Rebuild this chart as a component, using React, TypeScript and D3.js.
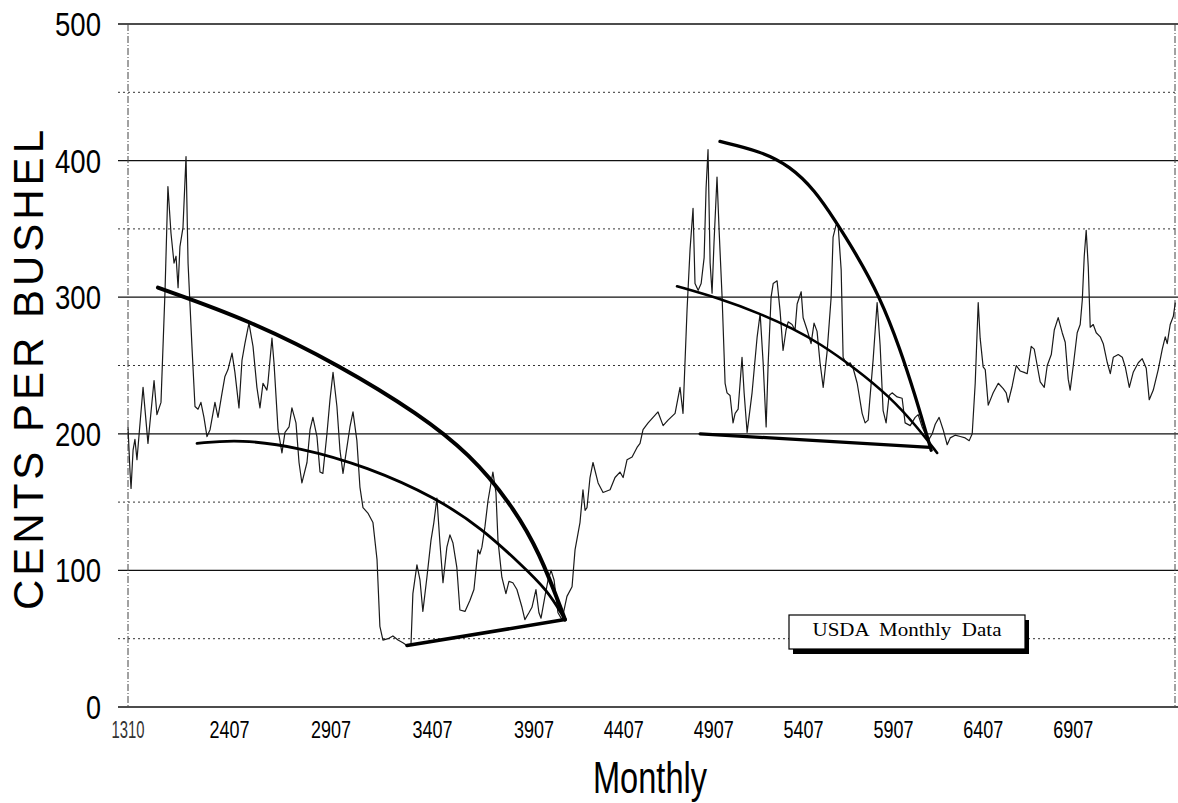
import * as d3 from "d3";

const W = 1178;
const H = 803;

// x is the category position of each monthly row; labels every 60 rows
const tickLabels = ["1310", "2407", "2907", "3407", "3907", "4407", "4907", "5407", "5907", "6407", "6907"];
const tickPeriods = [0, 60, 120, 180, 240, 300, 360, 420, 480, 540, 600];
const lastPeriod = 668;

const yMajor = [0, 100, 200, 300, 400, 500];
const yMinor = [50, 150, 250, 350, 450];

// cents per bushel [period, price]
const price: [number, number][] = [
  [0, 205], [1.2, 172], [1.8, 160], [3.0, 188], [4.1, 196], [5.3, 181], [8.9, 234], [11.8, 193],
  [15.4, 239], [17.1, 214], [19.5, 223], [21.9, 305], [23.6, 381], [25.4, 347], [27.2, 325], [28.4, 330],
  [29.6, 307], [30.7, 337], [32.5, 351], [34.3, 403], [35.5, 325], [37.8, 264], [39.6, 220], [41.4, 218],
  [43.1, 223], [44.9, 212], [46.7, 198], [48.5, 203], [51.4, 223], [53.2, 212], [55.6, 230], [57.3, 242],
  [59.1, 247], [61.5, 259], [63.2, 245], [65.6, 219], [67.4, 254], [69.1, 266], [71.5, 281], [73.9, 264],
  [76.2, 234], [78.0, 219], [79.8, 237], [82.1, 232], [82.7, 237], [85.1, 270], [86.3, 252], [88.7, 203],
  [91.0, 186], [92.8, 201], [95.2, 205], [96.9, 219], [99.3, 208], [101.1, 179], [102.8, 164], [105.8, 179],
  [107.6, 203], [109.3, 212], [111.7, 198], [113.5, 172], [115.2, 171], [117.6, 200], [119.4, 225], [121.2, 245],
  [123.5, 220], [125.3, 188], [127.1, 171], [129.4, 190], [131.2, 205], [133.0, 216], [135.3, 195], [137.1, 161],
  [138.9, 146], [141.8, 142], [144.8, 135], [147.2, 108], [148.9, 59], [150.7, 49], [153.7, 50], [156.6, 52],
  [159.6, 49], [162.5, 47], [164.9, 45], [167.3, 46], [168.4, 83], [170.8, 104], [172.6, 93], [174.3, 70],
  [176.7, 95], [179.1, 122], [180.8, 135], [182.6, 153], [184.4, 120], [186.2, 91], [188.5, 117], [190.3, 126],
  [192.1, 120], [194.4, 102], [196.2, 71], [199.2, 70], [202.1, 78], [204.5, 86], [206.9, 115], [208.0, 112],
  [209.2, 117], [211.0, 132], [212.8, 151], [215.7, 172], [217.5, 157], [218.7, 122], [221.0, 95], [223.4, 83],
  [225.2, 92], [227.5, 91], [229.9, 86], [232.9, 73], [234.6, 64], [237.0, 69], [238.8, 73], [241.3, 86],
  [243.3, 69], [244.7, 65], [247.3, 81], [249.4, 93], [251.4, 100], [253.4, 93], [256.0, 69], [258.7, 64],
  [262.0, 81], [265.4, 88], [267.4, 115], [270.7, 135], [272.7, 159], [274.1, 144], [275.4, 146], [277.4, 168],
  [279.4, 179], [282.8, 164], [286.1, 157], [290.8, 159], [294.1, 168], [297.4, 172], [299.5, 168], [302.1, 181],
  [305.5, 183], [308.8, 190], [310.8, 193], [312.8, 203], [316.2, 208], [319.5, 212], [322.8, 216], [326.2, 206],
  [329.5, 210], [334.2, 215], [337.5, 234], [339.5, 215], [342.2, 291], [344.2, 335], [346.2, 365], [347.5, 310],
  [349.6, 305], [351.6, 310], [353.6, 329], [354.9, 380], [356.2, 408], [357.6, 325], [358.9, 303], [360.2, 340],
  [362.2, 388], [363.6, 349], [365.6, 300], [367.6, 237], [368.9, 230], [370.9, 228], [372.9, 208], [374.3, 215],
  [376.3, 218], [378.9, 256], [380.3, 230], [382.3, 201], [385.6, 230], [389.0, 271], [391.0, 288], [393.0, 252],
  [395.0, 205], [396.3, 250], [398.3, 300], [399.7, 310], [402.3, 312], [404.3, 290], [406.3, 261], [408.3, 276],
  [409.7, 282], [412.3, 280], [414.3, 276], [415.7, 295], [418.4, 304], [419.7, 285], [422.4, 276], [425.0, 266],
  [427.0, 281], [429.0, 275], [431.0, 252], [433.1, 234], [435.7, 260], [438.4, 300], [439.7, 344], [441.7, 353],
  [443.1, 352], [445.1, 320], [446.4, 256], [449.1, 250], [451.1, 252], [453.1, 248], [455.8, 237], [459.1, 215],
  [461.1, 208], [463.1, 210], [466.5, 255], [469.1, 296], [471.1, 265], [473.1, 217], [475.1, 208], [477.1, 228],
  [479.1, 230], [482.5, 227], [485.8, 226], [487.8, 208], [491.2, 206], [494.5, 212], [496.5, 214], [499.2, 205],
  [501.2, 200], [503.2, 195], [505.9, 200], [507.9, 207], [510.5, 212], [513.2, 203], [515.9, 192], [517.9, 197],
  [521.2, 199], [524.6, 198], [527.9, 197], [530.6, 195], [532.6, 200], [534.6, 237], [536.6, 296], [537.9, 270],
  [539.9, 249], [541.3, 247], [543.3, 221], [546.6, 230], [550.0, 237], [553.3, 233], [555.3, 230], [556.6, 223],
  [559.3, 235], [562.0, 250], [564.6, 246], [567.3, 245], [569.3, 244], [572.0, 264], [574.0, 262], [576.0, 250],
  [578.0, 238], [580.7, 234], [582.7, 250], [585.4, 258], [587.4, 276], [590.0, 285], [592.7, 274], [594.7, 267],
  [596.7, 240], [598.0, 232], [600.1, 250], [602.7, 274], [604.7, 280], [606.1, 298], [607.4, 330], [608.7, 349],
  [610.1, 322], [611.4, 278], [613.4, 280], [615.4, 274], [618.1, 271], [620.1, 266], [622.8, 252], [624.8, 244],
  [626.8, 256], [630.1, 258], [632.8, 256], [634.8, 249], [637.5, 234], [640.1, 245], [643.5, 252], [646.1, 255],
  [648.8, 248], [650.8, 225], [653.5, 232], [656.8, 247], [659.5, 262], [661.5, 271], [662.8, 266], [664.8, 280],
  [666.9, 286], [668.2, 296],
];

// hand-drawn fan lines
const fanLeftOuter: [number, number][] = [
  [17.7, 307], [72.1, 283], [125.3, 250], [172.6, 214], [202.1, 185], [225.8, 150], [244.0, 113], [260.7, 64],
];
const fanLeftInner: [number, number][] = [
  [40.8, 193], [66.2, 196], [101.7, 190], [141.2, 176], [182.6, 153], [209.8, 130], [231.7, 105], [248.7, 86], [260.7, 64],
];
const fanLeftBase: [number, number][] = [[164.9, 45], [260.7, 64]];

const fanRightOuter: [number, number][] = [
  [364.2, 414], [391.0, 407], [411.0, 396], [427.7, 378], [441.1, 356], [454.4, 333], [471.1, 300],
  [484.5, 262], [494.5, 228], [501.2, 203], [505.2, 188],
];
const fanRightInner: [number, number][] = [
  [335.5, 308], [364.2, 299], [391.0, 288], [413.0, 277], [431.0, 266], [453.1, 249], [477.8, 227],
  [495.8, 205], [509.2, 186],
];
const fanRightBase: [number, number][] = [[350.9, 200], [504.5, 190]];

const m = { top: 24, right: 3, bottom: 96, left: 128 };
const plotR = W - m.right;
const plotB = H - m.bottom;

// scan is stretched unevenly: the part before 3907 is wider than the rest
const x = d3.scaleLinear().domain([0, 240, lastPeriod]).range([m.left, 534, plotR]);
const y = d3.scaleLinear().domain([0, 500]).range([plotB, m.top]);

const line = d3.line<[number, number]>().x((d) => x(d[0])).y((d) => y(d[1]));
const smooth = d3
  .line<[number, number]>()
  .x((d) => x(d[0]))
  .y((d) => y(d[1]))
  .curve(d3.curveBasis);

const sans = "'Liberation Sans', Arial, sans-serif";

export default function App() {
  return (
    <svg width={W} height={H} style={{ display: "block", background: "#fff" }}>
      <style>{`body{margin:0}`}</style>

      {/* grid */}
      {yMinor.map((v) => (
        <line key={"n" + v} x1={m.left - 10} x2={plotR} y1={y(v)} y2={y(v)} stroke="#333" strokeWidth={1} strokeDasharray="2 3" />
      ))}
      {yMajor.map((v) => (
        <line key={"j" + v} x1={m.left - 10} x2={W} y1={y(v)} y2={y(v)} stroke="#111" strokeWidth={1.3} />
      ))}
      <line x1={m.left} x2={m.left} y1={m.top} y2={plotB} stroke="#444" strokeWidth={1} strokeDasharray="7 2 1 2" />
      <line x1={plotR} x2={plotR} y1={m.top} y2={plotB} stroke="#444" strokeWidth={1} strokeDasharray="7 2 1 2" />

      {/* series */}
      <path d={line(price) ?? ""} fill="none" stroke="#1a1a1a" strokeWidth={1.2} strokeLinejoin="round" />

      {/* fans */}
      <path d={smooth(fanLeftOuter) ?? ""} fill="none" stroke="#000" strokeWidth={4} strokeLinecap="round" />
      <path d={smooth(fanLeftInner) ?? ""} fill="none" stroke="#000" strokeWidth={2.8} strokeLinecap="round" />
      <path d={line(fanLeftBase) ?? ""} fill="none" stroke="#000" strokeWidth={3.5} strokeLinecap="round" />
      <path d={smooth(fanRightOuter) ?? ""} fill="none" stroke="#000" strokeWidth={3.3} strokeLinecap="round" />
      <path d={smooth(fanRightInner) ?? ""} fill="none" stroke="#000" strokeWidth={2.6} strokeLinecap="round" />
      <path d={line(fanRightBase) ?? ""} fill="none" stroke="#000" strokeWidth={3.2} strokeLinecap="round" />

      {/* y labels */}
      {yMajor.map((v) => (
        <text
          key={"yl" + v}
          x={101}
          y={y(v) + 12}
          textAnchor="end"
          fontFamily={sans}
          fontSize={33}
          textLength={v === 0 ? 15 : 46}
          lengthAdjust="spacingAndGlyphs"
          fill="#000"
        >
          {v}
        </text>
      ))}

      {/* x labels */}
      {tickPeriods.map((p, i) => (
        <text
          key={"xl" + p}
          x={x(p)}
          y={738}
          textAnchor="middle"
          fontFamily={sans}
          fontSize={23}
          textLength={i === 0 ? 33 : 40}
          lengthAdjust="spacingAndGlyphs"
          fill={i === 0 ? "#333" : "#000"}
        >
          {tickLabels[i]}
        </text>
      ))}

      <text x={650} y={793} textAnchor="middle" fontFamily={sans} fontSize={45} textLength={114} lengthAdjust="spacingAndGlyphs">
        Monthly
      </text>
      <text
        transform={`translate(43, ${370}) rotate(-90)`}
        textAnchor="middle"
        fontFamily={sans}
        fontSize={42}
        textLength={480}
        lengthAdjust="spacing"
      >
        CENTS PER BUSHEL
      </text>

      {/* legend */}
      <rect x={793} y={620} width={236} height={34} fill="#000" />
      <rect x={789} y={615} width={236} height={34} fill="#fff" stroke="#000" strokeWidth={1.2} />
      <text
        x={907}
        y={636}
        textAnchor="middle"
        fontFamily="'Liberation Serif', 'Times New Roman', serif"
        fontSize={19}
        style={{ whiteSpace: "pre" }}
        textLength={189}
        lengthAdjust="spacingAndGlyphs"
      >
        {"USDA  Monthly  Data"}
      </text>
    </svg>
  );
}
